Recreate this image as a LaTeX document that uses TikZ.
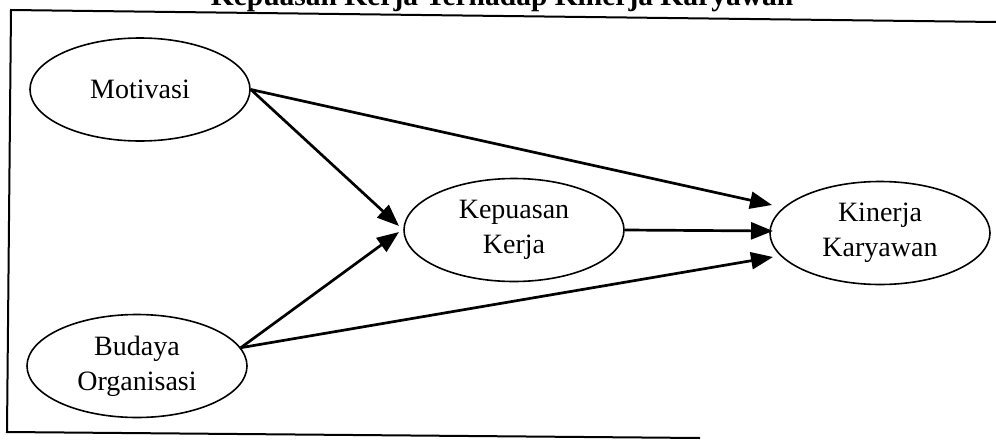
\documentclass[tikz,border=0pt]{standalone}
\usepackage{fontspec}
\setmainfont{Liberation Serif}
\usetikzlibrary{arrows.meta,shapes.geometric,calc}
\begin{document}
\begin{tikzpicture}[x=1pt,y=-1pt,
  var/.style={ellipse,draw,line width=1.6pt,minimum width=220pt,minimum height=103pt,
    inner sep=0pt,align=center,font=\fontsize{28}{35}\selectfont},
  link/.style={line width=2.7pt,-{Triangle[length=22pt,width=17pt]}},
  frame/.style={line width=2pt}]
\useasboundingbox (0,0) rectangle (996,442);
% heading, partly above the page edge
\node[anchor=base,inner sep=0pt,font=\bfseries\fontsize{29.5}{32}\selectfont] (title) at (502,5)
  {Kepuasan Kerja Terhadap Kinerja Karyawan};
% open frame round the model
\coordinate (ftr) at (996,22);
\coordinate (ftl) at (11,10);
\coordinate (fbl) at (7,432);
\coordinate (fbr) at (700,438);
\draw[frame] (ftr) -- (ftl) -- (fbl) -- (fbr);
% variables
\node[var] (mot) at (140,89.5) {Motivasi};
\node[var] (bud) at (137,366) {Budaya\\Organisasi};
\node[var] (kep) at (514,230) {Kepuasan\\Kerja};
\node[var] (kin) at (880,233) {Kinerja\\Karyawan};
% arrow tips
\coordinate (kepA) at (399,226);
\coordinate (kepB) at (399,232);
\coordinate (kinA) at (772,205);
\coordinate (kinB) at (773,231);
\coordinate (kinC) at (773,257);
% paths
\draw[link] (mot.east) -- (kinA);
\draw[link] (mot.east) -- (kepA);
\draw[link] (bud.10) -- (kepB);
\draw[link] (bud.10) -- (kinC);
\draw[link] (kep.east) -- (kinB);
\end{tikzpicture}
\end{document}
